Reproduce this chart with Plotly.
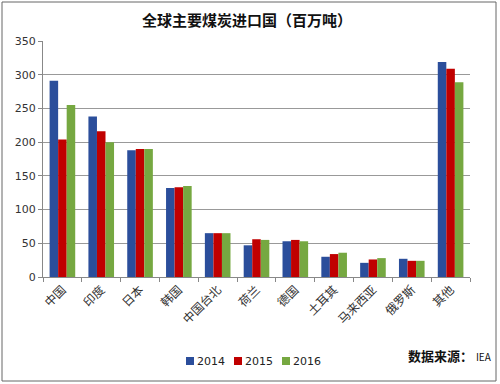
import plotly.graph_objects as go

categories = ["中国", "印度", "日本", "韩国", "中国台北", "荷兰", "德国", "土耳其", "马来西亚", "俄罗斯", "其他"]
v2014 = [291, 238, 188, 132, 65, 47, 53, 30, 21, 27, 319]
v2015 = [204, 216, 190, 133, 65, 56, 55, 34, 26, 24, 309]
v2016 = [255, 200, 190, 135, 65, 55, 53, 36, 28, 24, 289]
years = ["2014", "2015", "2016"]
colors = ["#2B4E9B", "#C00000", "#76A841"]

fig = go.Figure()
for name, vals, c in zip(years, [v2014, v2015, v2016], colors):
    fig.add_trace(go.Bar(x=categories, y=vals, name=name, showlegend=False,
                         marker=dict(color=c, line=dict(width=0))))

L, R, T, B = 43, 30, 41, 107
W, H = 500, 384
pw, ph = W - L - R, H - T - B


def px_x(x):
    return (x - L) / pw


def px_y(y):
    return (H - B - y) / ph


shapes = [dict(type="rect", xref="paper", yref="paper",
               x0=px_x(2), x1=px_x(496), y0=px_y(381), y1=px_y(2),
               line=dict(color="#666", width=1))]
annotations = [dict(text="<b><span style='font-size:13px'>数据来源：</span></b> <span style='font-size:10px'>IEA</span>",
                    xref="paper", yref="paper",
                    x=px_x(494), xanchor="right",
                    y=px_y(355), yanchor="middle", showarrow=False,
                    font=dict(size=13, color="#111"))]

# legend (drawn as swatches + text)
leg_x0, leg_step, leg_y = 186, 48, 361
for i, (name, c) in enumerate(zip(years, colors)):
    x = leg_x0 + i * leg_step
    shapes.append(dict(type="rect", xref="paper", yref="paper",
                       x0=px_x(x), x1=px_x(x + 8), y0=px_y(leg_y + 4), y1=px_y(leg_y - 4),
                       fillcolor=c, line=dict(width=0)))
    annotations.append(dict(text=name, xref="paper", yref="paper",
                            x=px_x(x + 9), xanchor="left", y=px_y(leg_y), yanchor="middle",
                            showarrow=False,
                            font=dict(size=11, family="DejaVu Sans", color="#222")))

fig.update_layout(
    width=W, height=H,
    margin=dict(l=L, r=R, t=T, b=B, autoexpand=False),
    paper_bgcolor="white", plot_bgcolor="white",
    barmode="group", bargap=0.34, bargroupgap=0,
    font=dict(family="Noto Sans CJK SC, DejaVu Sans", color="#333"),
    title=dict(text="<b>全球主要煤炭进口国（百万吨）</b>", x=247 / W, xanchor="center",
               y=1 - 21 / H, yanchor="middle", font=dict(size=15, color="#111")),
    showlegend=False,
    xaxis=dict(tickangle=-45, tickfont=dict(size=12, color="#333"),
               showline=True, linecolor="#888", linewidth=1, automargin=False,
               ticks="outside", tickson="boundaries", ticklen=4, tickcolor="#888"),
    yaxis=dict(range=[0, 350], dtick=50, showgrid=True, gridcolor="#999", gridwidth=1,
               showline=True, linecolor="#888", linewidth=1, automargin=False,
               ticks="outside", ticklen=4, tickcolor="#888",
               tickfont=dict(size=11, family="DejaVu Sans", color="#333")),
    shapes=shapes,
    annotations=annotations,
)

fig.write_html("out.html", config={"displayModeBar": False},
               post_script="document.body.style.margin='0';document.body.style.padding='0';")
